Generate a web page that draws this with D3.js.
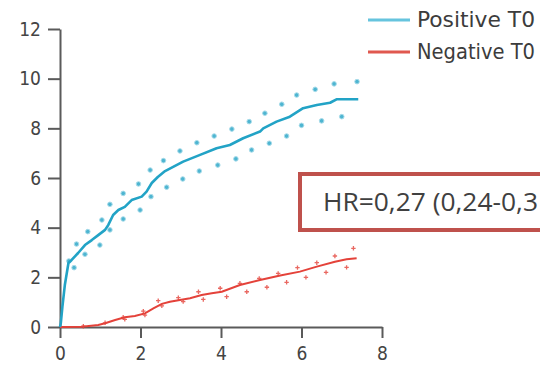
<!DOCTYPE html>
<html>
<head>
<meta charset="utf-8">
<script src="https://cdn.jsdelivr.net/npm/d3@7"></script>
<style>
  body { margin: 0; background: #fff; }
  svg { display: block; }
</style>
</head>
<body>
<div id="chart"></div>
<script>
// Cumulative incidence, positive T0 (cyan) and negative T0 (red)
const xTicks = [0, 2, 4, 6, 8];
const yTicks = [0, 2, 4, 6, 8, 10, 12];

const posX = [0, 0.02, 0.06, 0.12, 0.21, 0.29, 0.45, 0.62, 0.79, 0.95, 1.12, 1.2, 1.32, 1.45, 1.61, 1.78, 2.03, 2.15, 2.28, 2.43, 2.61, 3.06, 3.48, 3.89, 4.22, 4.55, 4.97, 5.05, 5.38, 5.71, 6.04, 6.38, 6.71, 6.87, 7.41];
const posY = [0, 0.16, 0.82, 1.69, 2.58, 2.7, 2.98, 3.3, 3.5, 3.7, 3.91, 4.11, 4.51, 4.71, 4.84, 5.11, 5.25, 5.45, 5.8, 6.04, 6.28, 6.66, 6.93, 7.2, 7.33, 7.6, 7.87, 8.0, 8.27, 8.47, 8.81, 8.94, 9.03, 9.17, 9.17];

const posUpX = [0.22, 0.41, 0.69, 1.04, 1.24, 1.57, 1.95, 2.24, 2.57, 2.98, 3.4, 3.83, 4.27, 4.7, 5.09, 5.51, 5.88, 6.34, 6.81, 7.38];
const posUpY = [2.66, 3.34, 3.84, 4.31, 4.94, 5.38, 5.76, 6.32, 6.7, 7.09, 7.42, 7.69, 7.97, 8.27, 8.61, 8.97, 9.34, 9.57, 9.79, 9.88];
const posLoX = [0.35, 0.62, 0.99, 1.24, 1.57, 1.99, 2.26, 2.65, 3.05, 3.46, 3.92, 4.37, 4.76, 5.2, 5.63, 6.0, 6.5, 7.0];
const posLoY = [2.39, 2.93, 3.3, 3.91, 4.35, 4.71, 5.25, 5.63, 5.96, 6.28, 6.52, 6.77, 7.13, 7.4, 7.69, 8.12, 8.3, 8.47];

const negX = [0, 0.54, 0.95, 1.12, 1.37, 1.61, 1.86, 2.11, 2.32, 2.53, 2.73, 2.98, 3.23, 3.52, 3.77, 4.02, 4.47, 4.97, 5.47, 5.96, 6.38, 6.83, 7.12, 7.37];
const negY = [0, 0.01, 0.08, 0.15, 0.28, 0.39, 0.44, 0.55, 0.75, 0.93, 1.02, 1.09, 1.16, 1.29, 1.36, 1.42, 1.69, 1.89, 2.07, 2.23, 2.43, 2.63, 2.73, 2.77];

const negUpX = [0.58, 1.12, 1.57, 2.07, 2.44, 2.94, 3.44, 3.98, 4.47, 4.95, 5.42, 5.9, 6.38, 6.83, 7.29];
const negUpY = [0.03, 0.17, 0.39, 0.64, 1.06, 1.18, 1.42, 1.56, 1.76, 1.96, 2.16, 2.39, 2.59, 2.86, 3.17];
const negLoX = [1.61, 2.11, 2.53, 3.06, 3.56, 4.14, 4.64, 5.14, 5.63, 6.11, 6.61, 7.12];
const negLoY = [0.31, 0.48, 0.85, 1.02, 1.11, 1.22, 1.42, 1.6, 1.8, 2.0, 2.2, 2.4];

const legendLabels = ['Positive T0', 'Negative T0'];
const hrLabel = 'HR=0,27 (0,24-0,3';

const width = 540, height = 365;
const cyan = '#22a3c6', red = '#e4423a';
const axisColor = '#5a5a5a';
const font = '"DejaVu Sans Condensed", "DejaVu Sans", sans-serif';

const zip = (xs, ys) => xs.map((x, i) => [x, ys[i]]);

const svg = d3.select('#chart').append('svg')
    .attr('width', width)
    .attr('height', height);

const x = d3.scaleLinear().domain([0, 8]).range([60, 382]);
const y = d3.scaleLinear().domain([0, 12]).range([327, 29]);

// y axis
const yAxis = svg.append('g')
    .attr('transform', `translate(${x(0)},0)`)
    .call(d3.axisLeft(y).tickValues(yTicks).tickSize(12).tickSizeOuter(0).tickPadding(7));
yAxis.selectAll('text')
    .style('font-family', font)
    .style('font-size', '19px')
    .attr('fill', '#444');

// x axis
const xAxis = svg.append('g')
    .attr('transform', `translate(0,${y(0)})`)
    .call(d3.axisBottom(x).tickValues(xTicks).tickSize(11).tickSizeOuter(0));
xAxis.selectAll('text')
    .attr('y', 33)
    .attr('dy', 0)
    .style('font-family', font)
    .style('font-size', '19px')
    .attr('fill', '#444');

svg.selectAll('.domain, .tick line')
    .attr('stroke', axisColor)
    .attr('stroke-width', 2);

const line = d3.line().x(d => x(d[0])).y(d => y(d[1]));

// positive T0 confidence dots
svg.append('g').selectAll('circle')
    .data(zip(posUpX, posUpY).concat(zip(posLoX, posLoY)))
    .join('circle')
    .attr('cx', d => x(d[0]))
    .attr('cy', d => y(d[1]))
    .attr('r', 2.3)
    .attr('fill', cyan)
    .attr('fill-opacity', 0.8)
    .attr('stroke', '#a8dcea')
    .attr('stroke-width', 1);

// negative T0 confidence marks
const negMarks = svg.append('g').selectAll('g')
    .data(zip(negUpX, negUpY).concat(zip(negLoX, negLoY)))
    .join('g')
    .attr('transform', d => `translate(${x(d[0])},${y(d[1])})`);
negMarks.append('path')
    .attr('d', 'M-2.2,0H2.2M0,-2.2V2.2')
    .attr('stroke', red)
    .attr('stroke-opacity', 0.8)
    .attr('stroke-width', 1.3);

// curves
svg.append('path')
    .datum(zip(negX, negY))
    .attr('fill', 'none')
    .attr('stroke', red)
    .attr('stroke-width', 2)
    .attr('d', line);

svg.append('path')
    .datum(zip(posX, posY))
    .attr('fill', 'none')
    .attr('stroke', cyan)
    .attr('stroke-width', 2.6)
    .attr('stroke-linejoin', 'round')
    .attr('d', line);

// legend
const legend = svg.append('g');
const legendColors = ['#66c4de', '#e0584f'];
legendLabels.forEach((label, i) => {
    const ly = 20 + i * 32;
    legend.append('line')
        .attr('x1', 368).attr('x2', 410)
        .attr('y1', ly).attr('y2', ly)
        .attr('stroke', legendColors[i])
        .attr('stroke-width', 3);
    legend.append('text')
        .attr('x', 417)
        .attr('y', ly + 7)
        .attr('textLength', 118)
        .attr('lengthAdjust', 'spacingAndGlyphs')
        .style('font-family', font)
        .style('font-size', '22px')
        .attr('fill', '#3c3c3c')
        .text(label);
});

// hazard ratio box
svg.append('rect')
    .attr('x', 300).attr('y', 174)
    .attr('width', 270).attr('height', 56)
    .attr('fill', '#fff')
    .attr('stroke', '#bf514c')
    .attr('stroke-width', 4);

svg.append('text')
    .attr('x', 323)
    .attr('y', 211)
    .attr('textLength', 215)
    .attr('lengthAdjust', 'spacingAndGlyphs')
    .style('font-family', '"Open Sans", sans-serif')
    .style('font-size', '25px')
    .attr('fill', '#404040')
    .text(hrLabel);
</script>
</body>
</html>
